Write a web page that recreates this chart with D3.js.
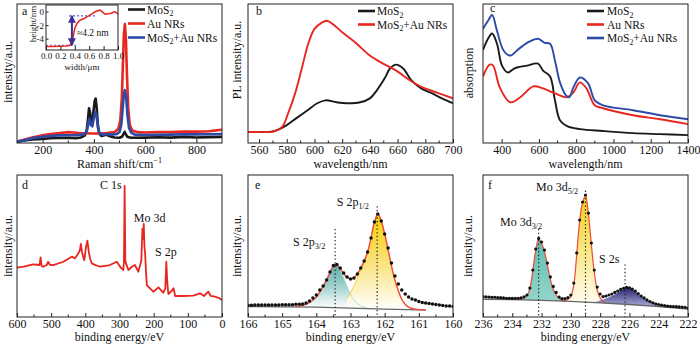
<!DOCTYPE html>
<html><head><meta charset="utf-8">
<script src="https://cdn.jsdelivr.net/npm/d3@7"></script>
<style>
body{margin:0;background:#fff;}
svg{display:block;}
</style></head><body>
<svg id="chart" width="700" height="346"></svg>
<script>
// ---------------- DATA ----------------
// (a) Raman spectra  [shift cm-1, intensity a.u.]
const ramanMoS2 = [[100,1],[130,1.8],[160,2.5],[200,3],[230,3.4],[260,3.6],[300,3.8],[330,3.5],[350,4],[365,5.5],[372,9],[377,17],[381,25],[385,22],[389,14],[393,13],[398,22],[403,30],[407,32],[411,25],[415,14],[420,7],[430,5],[440,5.5],[450,6],[460,5],[480,4],[500,3.8],[510,4.5],[516,6.5],[520,8],[524,6.5],[530,4.5],[545,3.8],[600,3.9],[650,4.1],[700,3.9],[750,4.4],[800,4],[850,4.2],[900,4.4]];
const ramanAu = [[100,1],[130,2.5],[160,4],[200,5.5],[230,6.5],[260,7],[300,7.8],[340,7.2],[370,7],[390,6.8],[420,6.8],[450,7.2],[480,7.8],[495,10],[503,16],[509,32],[513,55],[517,78],[521,85.5],[525,75],[529,50],[534,25],[540,13],[550,9],[570,7.8],[600,7.6],[650,7.8],[700,7.8],[750,8.2],[800,8.2],[850,8.5],[880,9.2],[900,9.5]];
const ramanMix = [[100,1],[130,2],[160,3.5],[200,4.5],[230,5],[260,5.5],[300,5.6],[340,5.8],[360,6.2],[372,8],[378,14],[383,17.5],[388,13],[394,12],[400,18],[406,22.5],[411,19],[416,11],[422,7],[435,6],[450,6.5],[470,6],[490,6.5],[500,8],[507,13],[512,24],[517,35],[521,38],[526,33],[531,20],[537,11],[545,7.5],[560,6],[600,5.8],[650,5.9],[700,6],[750,6.3],[800,6.2],[850,6.3],[900,6.5]];
// (a) inset AFM height profile [width um, height nm]
const insetProfile = [[0,-5.1],[0.1,-5.1],[0.2,-5.05],[0.29,-5.0],[0.33,-4.9],[0.36,-4.5],[0.38,-3.5],[0.4,-2.4],[0.43,-1.7],[0.47,-1.2],[0.54,-0.9],[0.61,-0.45],[0.68,0.05],[0.75,0.3],[0.82,-0.3],[0.89,-0.2],[0.96,0.05],[1.0,-0.3]];
const insetLevels = [[0.32,0.7,-0.55],[0,0.43,-4.9]];   // [from, to, height]
const insetStep = [0.36,-0.55,-4.9];                     // [width, top, bottom]

// (b) PL spectra [wavelength nm, intensity]
const plMoS2 = [[552,7.9],[560,7.9],[568,8.0],[573,9.3],[580,12.9],[587,17.9],[595,23.6],[602,28.6],[608,30.7],[616,29.3],[623,28.6],[633,29.3],[640,32.1],[645,37.9],[651,47.1],[654.5,53.6],[659,56.4],[664,53.6],[670,45],[677,39.3],[685,35.7],[692,32.1],[700,28.6]];
const plMix = [[552,7.9],[560,7.9],[570,8.2],[576.5,11.4],[581,21.4],[586,35.7],[591,54.3],[595.5,71.4],[600,82.1],[605,86.4],[609,87.9],[613,85.7],[620.5,79.3],[630.5,71.4],[640,62.9],[649.5,57.1],[659,52.1],[669,45],[678,40],[688,36.4],[700,32.1]];

// (c) absorption [wavelength nm, absorption]
const absMoS2 = [[300,66.9],[327,75],[349,78.8],[375,71.4],[402,55.7],[434,50.7],[460,52.9],[482,54.3],[536,55.7],[595,57.1],[622,52.1],[660,47.9],[686,30.7],[713,16.4],[751,12.1],[820,10],[944,8.6],[1105,7.1],[1250,6.4],[1400,5.7]];
const absAu = [[300,47.9],[336,56.4],[354,55.7],[390,40],[446,29.3],[500,32.9],[570,40.7],[622,39.3],[686,35.7],[751,32.9],[785,36.4],[820,43.6],[855,39.3],[900,27.1],[944,25],[1105,20],[1250,17.1],[1400,13.6]];
const absMix = [[300,82.1],[327,87.9],[349,92.1],[375,80.7],[411,66.4],[446,62.9],[494,67.9],[548,72.9],[595,75],[631,72.1],[660,71.4],[686,59.3],[713,43.6],[745,34.3],[763,32.9],[785,40],[820,47.1],[864,42.9],[900,30.7],[944,27.1],[1105,23.6],[1250,20],[1400,17.1]];

// (d) XPS survey [binding energy eV, intensity]
const xpsSurvey = [[600,34.7],[580,35.5],[553,37.1],[540,36.8],[534,36.6],[531,42],[528,36],[523,35.4],[513,36.6],[509,38.9],[504,36.8],[494,36.6],[464,38.9],[440,42.5],[430,41.3],[420,45],[416,47],[413,51.4],[410,46],[406,42],[403,40.1],[398,49.5],[394,53.8],[390,46],[386,41],[381,37.8],[370,36.5],[357,35.4],[328,36.6],[308,38.9],[297,35],[289,33.1],[287,38],[285,92.3],[283,40],[281,37.8],[274,33.1],[264,35.4],[255,36.6],[245,31.9],[236,40],[233,62],[231,55],[229,65.5],[227,50],[225,44.8],[222,30],[220,22.5],[210,20],[201,17.8],[186,20.9],[172,17.1],[166,20],[163,38.9],[160,24],[157,16.2],[147,18.5],[142,20.2],[137,14.8],[113,14.8],[84,15],[64,16.7],[53,14.8],[40,17.8],[33,14.8],[21,14.3],[10,13.5],[0,12]];
const surveyLabels = [["C 1s",325,90],["Mo 3d",212,67],["S 2p",164,43]];

// (e) S 2p high resolution
const s2pData = [[166.0,8.3],[165.9,8.3],[165.8,8.4],[165.7,8.4],[165.6,8.4],[165.5,8.5],[165.4,8.5],[165.3,8.5],[165.2,8.4],[165.1,8.5],[165.0,8.6],[164.9,8.6],[164.8,8.7],[164.7,8.7],[164.6,8.9],[164.5,9.0],[164.4,9.2],[164.3,9.9],[164.2,11.3],[164.1,13.4],[164.0,15.5],[163.9,19.0],[163.8,21.8],[163.7,26.1],[163.6,31.7],[163.5,36.2],[163.4,37.0],[163.3,34.5],[163.2,31.0],[163.1,28.2],[163.0,26.8],[162.9,27.5],[162.8,30.3],[162.7,34.5],[162.6,39.4],[162.5,45.8],[162.4,55.6],[162.3,66.9],[162.2,72.5],[162.1,67.6],[162.0,58.5],[161.9,48.6],[161.8,38.0],[161.7,28.9],[161.6,23.2],[161.5,19.0],[161.4,16.2],[161.3,14.1],[161.2,12.7],[161.1,12.0],[161.0,10.9],[160.9,10.2],[160.8,9.9],[160.7,9.5],[160.6,9.2],[160.5,8.8],[160.4,8.5],[160.3,8.1],[160.2,7.7],[160.1,7.7],[160.0,7.4]];
const s2pFit = [[164.6,7.3],[164.4,8.2],[164.2,10.2],[164.0,14.0],[163.9,17.5],[163.8,21.8],[163.7,26.1],[163.6,31.5],[163.5,35.8],[163.4,36.5],[163.3,34.0],[163.2,30.5],[163.1,28.0],[163.0,26.8],[162.9,27.5],[162.8,30.3],[162.7,34.5],[162.6,39.4],[162.5,45.8],[162.4,55.6],[162.3,66.9],[162.2,72.5],[162.1,67.6],[162.0,58.5],[161.9,47.5],[161.8,36.0],[161.7,26.0],[161.6,18.5],[161.5,12.5],[161.4,9.0],[161.3,7.0],[161.2,6.0],[161.0,5.2],[160.8,4.9]];
const s2p32 = [[164.6,7.3],[164.4,8.0],[164.2,9.8],[164.0,13.5],[163.9,16.5],[163.8,21.0],[163.7,26.0],[163.6,31.5],[163.5,35.5],[163.4,36.2],[163.3,33.0],[163.2,27.5],[163.1,21.5],[163.0,16.0],[162.9,12.0],[162.8,9.3],[162.7,7.8],[162.6,7.0],[162.5,6.4]];
const s2p12 = [[163.1,13.1],[163.0,17.1],[162.9,21.7],[162.8,27.2],[162.7,32.9],[162.6,38.6],[162.5,45.5],[162.4,55.3],[162.3,66.5],[162.2,72.2],[162.1,67.4],[162.0,58.2],[161.9,47.3],[161.8,35.8],[161.7,25.8],[161.6,18.3],[161.5,12.3],[161.4,8.8],[161.3,6.8],[161.2,5.8]];
const s2pBg = [[166,7.4],[165,7.2],[164,6.9],[163,6.3],[162,5.6],[161,5.0],[160.8,4.9]];
const s2pMarks = [[163.45,62],[162.22,78]];       // [position eV, top]
const s2pLabels = [["S 2p","3/2",164.68,50],["S 2p","1/2",163.4,78.2]];

// (f) Mo 3d high resolution
const mo3dData = [[236.0,14.4],[235.8,14.2],[235.6,14.1],[235.4,13.9],[235.2,13.9],[235.0,13.7],[234.8,13.6],[234.6,13.4],[234.4,13.2],[234.2,13.2],[234.0,13.1],[233.8,13.1],[233.6,13.2],[233.4,13.5],[233.2,14.2],[233.0,15.5],[232.8,20.4],[232.6,33.1],[232.4,47.9],[232.2,55.3],[232.0,52.8],[231.8,47.2],[231.6,38.0],[231.4,28.2],[231.2,21.5],[231.0,17.3],[230.8,14.1],[230.6,13.0],[230.4,13.0],[230.2,13.7],[230.0,15.5],[229.8,23.9],[229.6,45.1],[229.4,68.3],[229.2,81.0],[229.0,85.9],[228.8,73.2],[228.6,52.1],[228.4,33.1],[228.2,21.1],[228.0,16.2],[227.8,14.4],[227.6,14.8],[227.4,15.5],[227.2,16.2],[227.0,17.3],[226.8,18.3],[226.6,19.4],[226.4,20.2],[226.2,20.8],[226.0,20.6],[225.8,19.7],[225.6,18.3],[225.4,16.5],[225.2,14.8],[225.0,13.4],[224.8,12.0],[224.6,10.9],[224.4,10.0],[224.2,9.3],[224.0,8.8],[223.8,8.3],[223.6,8.0],[223.4,7.7],[223.2,7.5],[223.0,7.4],[222.8,7.3],[222.6,7.1],[222.4,7.0],[222.2,6.8],[222.0,6.3]];
const mo3d32 = [[233.6,12.2],[233.4,12.6],[233.2,13.6],[233.0,15.2],[232.8,20.0],[232.6,32.5],[232.4,47.0],[232.2,54.8],[232.0,52.0],[231.8,46.0],[231.6,36.5],[231.4,26.5],[231.2,19.5],[231.0,15.5],[230.8,13.2],[230.6,11.8],[230.4,11.2]];
const mo3d52 = [[230.6,11.3],[230.4,11.6],[230.2,12.5],[230.0,14.5],[229.8,22.5],[229.6,44.0],[229.4,67.5],[229.2,80.5],[229.0,85.5],[228.8,72.5],[228.6,51.0],[228.4,31.5],[228.2,19.0],[228.0,13.5],[227.8,11.0],[227.6,10.0]];
const s2s = [[228.6,10.4],[228.2,11.0],[227.8,12.3],[227.4,13.8],[227.0,15.8],[226.6,18.4],[226.4,19.6],[226.2,20.3],[226.0,20.3],[225.8,19.4],[225.6,18.0],[225.2,14.8],[224.8,12.0],[224.4,9.9],[224.0,8.3],[223.6,7.3]];
const mo3dBg = [[236,12.5],[234,12.2],[232,11.7],[230,11.0],[228,10.0],[226,8.8],[224,7.3],[222,5.6]];
const mo3dMarks = [[232.2,62],[229.0,89],[226.3,37]];
const mo3dLabels = [["Mo 3d","3/2",234.84,64],["Mo 3d","5/2",232.38,88.7],["S 2s","",228.08,38]];

// tick values
const ticksA = [200,400,600,800], minorA = [300,500,700];
const ticksB = [560,580,600,620,640,660,680,700], minorB = [570,590,610,630,650,670,690];
const ticksC = [400,600,800,1000,1200,1400], minorC = [500,700,900,1100,1300];
const ticksD = [600,500,400,300,200,100,0], minorD = [550,450,350,250,150,50];
const ticksE = [166,165,164,163,162,161,160], minorE = [165.5,164.5,163.5,162.5,161.5,160.5];
const ticksF = [236,234,232,230,228,226,224,222], minorF = [235,233,231,229,227,225,223];
const ticksInsetX = [0,0.2,0.4,0.6,0.8,1.0], ticksInsetY = [0,-2,-4];

// legends
const legendA = [["MoS","2","",'#1a1a1a'],["Au NRs","","",'#e8261f'],["MoS","2","+Au NRs",'#2d4aa6']];
const legendB = [["MoS","2","",'#1a1a1a'],["MoS","2","+Au NRs",'#e8261f']];
const legendC = [["MoS","2","",'#1a1a1a'],["Au NRs","","",'#e8261f'],["MoS","2","+Au NRs",'#2d4aa6']];

// ---------------- DRAWING ----------------
const FONT = '"Liberation Serif","Times New Roman",serif';
const svg = d3.select('#chart');
const defs = svg.append('defs');
const RED='#e8261f', BLACK='#1a1a1a', BLUE='#2d4aa6';

function panel(id,x0,x1,y0,y1,xd,yd){
  const p={id,x0,x1,y0,y1,x:d3.scaleLinear().domain(xd).range([x0,x1]),y:d3.scaleLinear().domain(yd||[0,100]).range([y1,y0])};
  defs.append('clipPath').attr('id','clip'+id).append('rect').attr('x',x0).attr('y',y0).attr('width',x1-x0).attr('height',y1-y0);
  p.g = svg.append('g').attr('clip-path',`url(#clip${id})`);
  return p;
}
function rich(x,y,parts,o={}){
  const size=o.size||12;
  const t=svg.append('text').attr('x',x).attr('y',y).attr('font-family',FONT).attr('font-size',size)
    .attr('fill','#111').attr('text-anchor',o.anchor||'start');
  if(o.rotate) t.attr('transform',`rotate(-90,${x},${y})`);
  let shift=0;
  parts.forEach(pt=>{
    const s=typeof pt==='string'?{t:pt}:pt;
    if(!s.t) return;
    const target=s.sub?size*0.25:s.sup?-size*0.4:0;
    const ts=t.append('tspan').text(s.t).attr('dy',target-shift);
    shift=target;
    if(s.sub||s.sup) ts.attr('font-size',size*0.68);
  });
  return t;
}
function line(p,data,color,w,curve){
  p.g.append('path').datum(data)
   .attr('d',d3.line().x(d=>p.x(d[0])).y(d=>p.y(d[1])).curve(curve||d3.curveLinear))
   .attr('fill','none').attr('stroke',color).attr('stroke-width',w).attr('stroke-linejoin','round');
}
function frame(p){
  svg.append('rect').attr('x',p.x0).attr('y',p.y0).attr('width',p.x1-p.x0).attr('height',p.y1-p.y0)
    .attr('fill','none').attr('stroke','#222').attr('stroke-width',1);
}
function xAxis(p,major,minor,fmt,size){
  const g=svg.append('g').attr('transform',`translate(0,${p.y1})`)
    .call(d3.axisBottom(p.x).tickValues(major).tickSize(-4).tickPadding(2.5).tickFormat(fmt||d3.format('d')));
  g.select('.domain').remove();
  g.attr('font-family',FONT).attr('font-size',size||12);
  g.selectAll('line').attr('stroke','#222');
  g.selectAll('text').attr('fill','#111');
  g.selectAll('line.mn').data(minor).enter().append('line').attr('class','mn')
    .attr('x1',d=>p.x(d)).attr('x2',d=>p.x(d)).attr('y1',0).attr('y2',-2.5).attr('stroke','#222');
}
function grad(id,y0,y1,stops){
  const g=defs.append('linearGradient').attr('id',id).attr('gradientUnits','userSpaceOnUse')
    .attr('x1',0).attr('x2',0).attr('y1',y0).attr('y2',y1);
  stops.forEach(([o,c])=>g.append('stop').attr('offset',o).attr('stop-color',c));
}
function comp(p,data,bg,fill){
  const bgS=d3.scaleLinear().domain(bg.map(d=>d[0])).range(bg.map(d=>d[1]));
  p.g.append('path').datum(data)
   .attr('d',d3.area().x(d=>p.x(d[0])).y0(d=>p.y(bgS(d[0]))).y1(d=>p.y(d[1])).curve(d3.curveCatmullRom))
   .attr('fill',fill);
}
function legend(items,lx,tx,ys){
  items.forEach((it,i)=>{
    svg.append('line').attr('x1',lx).attr('x2',lx+17).attr('y1',ys[i]).attr('y2',ys[i])
      .attr('stroke',it[3]).attr('stroke-width',2.6);
    rich(tx,ys[i]+4,[it[0],{t:it[1],sub:true},it[2]],{size:11.5});
  });
}
function dots(p,data,r){
  p.g.selectAll(null).data(data).enter().append('circle')
   .attr('cx',d=>p.x(d[0])).attr('cy',d=>p.y(d[1])).attr('r',r).attr('fill','#111');
}
function marks(p,data){
  data.forEach(d=>{
    p.g.append('line').attr('x1',p.x(d[0])).attr('x2',p.x(d[0])).attr('y1',p.y(d[1])).attr('y2',p.y1)
      .attr('stroke','#222').attr('stroke-width',1.2).attr('stroke-dasharray','1.3,2.4');
  });
}
const YT=4, YB=143, Y2T=175, Y2B=317;

// ---- (a)
const pa=panel('a',17,222,YT,YB,[100,900]);
line(pa,ramanMoS2,BLACK,2.6);
line(pa,ramanAu,RED,2.6);
line(pa,ramanMix,BLUE,2.6);
frame(pa); xAxis(pa,ticksA,minorA);
rich(119.5,168,['Raman shift/cm',{t:'−1',sup:true}],{anchor:'middle'});
rich(12,72,['intensity/a.u.'],{anchor:'middle',rotate:true});
rich(22,15,['a']);
legend(legendA,128,147,[9.5,23.5,37.5]);
// inset
const pi=panel('i',46,118,5,50,[0,1],[-5.6,1.05]);
pi.g.append('rect').attr('x',46).attr('y',5).attr('width',72).attr('height',45).attr('fill','#fff');
insetLevels.forEach(l=>pi.g.append('line').attr('x1',pi.x(l[0])).attr('x2',pi.x(l[1])).attr('y1',pi.y(l[2])).attr('y2',pi.y(l[2]))
  .attr('stroke','#5a5ad0').attr('stroke-width',1.2).attr('stroke-dasharray','2,2'));
line(pi,insetProfile,RED,1.5);
defs.append('marker').attr('id','arr').attr('viewBox','0 0 8 8').attr('refX',7).attr('refY',4)
  .attr('markerWidth',4).attr('markerHeight',4).attr('orient','auto-start-reverse')
  .append('path').attr('d','M0,0L8,4L0,8z').attr('fill','#3b2f8f');
svg.append('line').attr('x1',pi.x(insetStep[0])).attr('x2',pi.x(insetStep[0])).attr('y1',pi.y(insetStep[1])).attr('y2',pi.y(insetStep[2]))
  .attr('stroke','#3b2f8f').attr('stroke-width',2).attr('marker-start','url(#arr)').attr('marker-end','url(#arr)');
frame(pi);
xAxis(pi,ticksInsetX,[],d3.format('.1f'),9);
svg.append('g').selectAll('text').data(ticksInsetY).enter().append('text')
  .attr('x',44).attr('y',d=>pi.y(d)+3).attr('text-anchor','end').attr('font-family',FONT).attr('font-size',9).attr('fill','#111')
  .text(d=>d);
svg.append('g').selectAll('line').data(ticksInsetY).enter().append('line')
  .attr('x1',46).attr('x2',48.5).attr('y1',d=>pi.y(d)).attr('y2',d=>pi.y(d)).attr('stroke','#222');
rich(82,70,['width/μm'],{anchor:'middle',size:9});
rich(36,24,['height/nm'],{anchor:'middle',size:9,rotate:true});
rich(77,36,['≈4.2 nm'],{size:9.5});

// ---- (b)
const pb=panel('b',248,453,YT,YB,[552,700]);
line(pb,plMoS2,BLACK,1.9,d3.curveCatmullRom);
line(pb,plMix,RED,1.9,d3.curveCatmullRom);
frame(pb); xAxis(pb,ticksB,minorB);
rich(350.5,168,['wavelength/nm'],{anchor:'middle'});
rich(241,60,['PL intensity/a.u.'],{anchor:'middle',rotate:true});
rich(256,15,['b']);
legend(legendB,358,377,[11,24.5]);

// ---- (c)
const pc=panel('c',483,688,YT,YB,[300,1400]);
line(pc,absMoS2,BLACK,1.9,d3.curveCatmullRom);
line(pc,absAu,RED,1.9,d3.curveCatmullRom);
line(pc,absMix,BLUE,1.9,d3.curveCatmullRom);
frame(pc); xAxis(pc,ticksC,minorC);
rich(585.5,168,['wavelength/nm'],{anchor:'middle'});
rich(473,73,['absorption'],{anchor:'middle',rotate:true});
rich(490,12,['c']);
legend(legendC,587,607,[11,24.5,38]);

// ---- (d)
const pd=panel('d',17,222,Y2T,Y2B,[600,0]);
line(pd,xpsSurvey,RED,1.8);
frame(pd); xAxis(pd,ticksD,minorD);
rich(119.5,341,['binding energy/eV'],{anchor:'middle'});
rich(12,246,['intensity/a.u.'],{anchor:'middle',rotate:true});
rich(22,189,['d']);
surveyLabels.forEach(l=>rich(pd.x(l[1]),pd.y(l[2]),[l[0]],{anchor:'middle'}));

// ---- (e)
const pe=panel('e',248,453,Y2T,Y2B,[166,160]);
grad('gTealE',pe.y(37),pe.y(6),[[0,'#58a9a7'],[0.5,'#a3d3cf'],[1,'#ffffff']]);
grad('gYelE',pe.y(73),pe.y(5),[[0,'#f6cf00'],[0.5,'#fae27a'],[1,'#ffffff']]);
comp(pe,s2p32,s2pBg,'url(#gTealE)');
comp(pe,s2p12,s2pBg,'url(#gYelE)');
line(pe,s2p32,'#a8dede',1,d3.curveCatmullRom);
line(pe,s2p12,'#f3cd30',1,d3.curveCatmullRom);
line(pe,s2pBg,'#666',1.3);
line(pe,s2pFit,'#ee4a3a',1.4,d3.curveCatmullRom);
dots(pe,s2pData,1.75);
marks(pe,s2pMarks);
frame(pe); xAxis(pe,ticksE,minorE);
rich(350.5,341,['binding energy/eV'],{anchor:'middle'});
rich(241,246,['intensity/a.u.'],{anchor:'middle',rotate:true});
rich(255,189,['e']);
s2pLabels.forEach(l=>rich(pe.x(l[2]),pe.y(l[3]),[l[0],{t:l[1],sub:true}]));

// ---- (f)
const pf=panel('f',483,688,Y2T,Y2B,[236,222]);
grad('gTealF',pf.y(55),pf.y(11),[[0,'#5cbdb0'],[1,'#94d5ca']]);
grad('gYelF',pf.y(86),pf.y(10),[[0,'#f4cf12'],[0.55,'#f9e98c'],[1,'#fffdf0']]);
grad('gNavF',pf.y(21),pf.y(7),[[0,'#24206c'],[1,'#aeaedb']]);
comp(pf,mo3d32,mo3dBg,'url(#gTealF)');
comp(pf,mo3d52,mo3dBg,'url(#gYelF)');
comp(pf,s2s,mo3dBg,'url(#gNavF)');
line(pf,mo3d32,'#ee4a3a',1.2,d3.curveCatmullRom);
line(pf,mo3d52,'#ee4a3a',1.2,d3.curveCatmullRom);
line(pf,mo3dBg,'#666',1.3);
dots(pf,mo3dData,1.6);
marks(pf,mo3dMarks);
frame(pf); xAxis(pf,ticksF,minorF);
rich(585.5,341,['binding energy/eV'],{anchor:'middle'});
rich(472,246,['intensity/a.u.'],{anchor:'middle',rotate:true});
rich(488,189,['f']);
mo3dLabels.forEach(l=>rich(pf.x(l[2]),pf.y(l[3]),[l[0],{t:l[1],sub:true}]));
</script>
</body></html>
